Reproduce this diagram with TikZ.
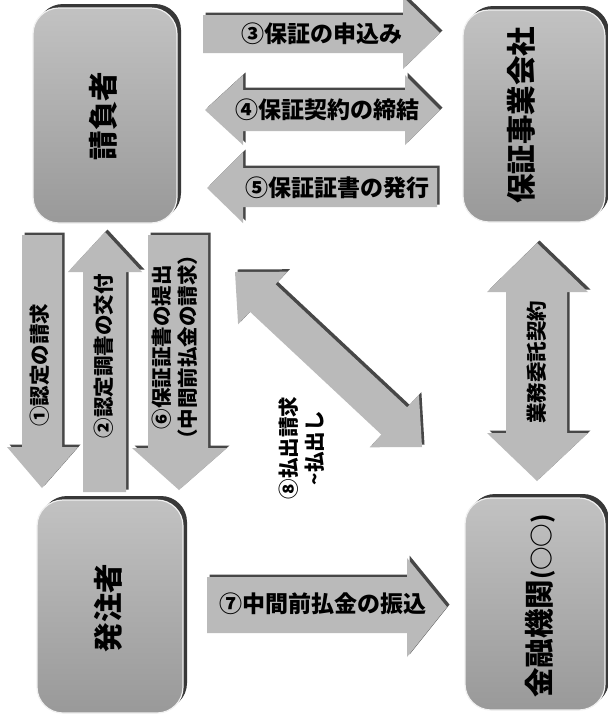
\documentclass[tikz,border=0pt]{standalone}
\usepackage{fontspec}
\setmainfont{Noto Sans CJK JP}
\begin{document}
\begin{tikzpicture}[x=1pt,y=-1pt,
  arr/.style={fill=black!27, preaction={fill=black!72, transform canvas={xshift=2.5pt,yshift=2.5pt}}},
  box/.style={rectangle, rounded corners=26pt, draw=black!6, line width=1.2pt,
    top color=black!24, bottom color=black!40,
    preaction={fill=black!78, transform canvas={xshift=4pt,yshift=4pt}}},
  boxlbl/.style={font=\bfseries\fontsize{29.5}{32}\selectfont, inner sep=0pt},
  hlbl/.style={font=\bfseries\fontsize{23}{26}\selectfont, inner sep=0pt},
  vlbl/.style={font=\bfseries\fontsize{20.5}{26}\selectfont, inner sep=0pt, rotate=90, align=center},
  plbl/.style={font=\bfseries\fontsize{20.5}{26}\selectfont, inner sep=0pt, rotate=90, align=center}
]
\useasboundingbox (0,0) rectangle (608,721);
\clip (0,0) rectangle (608,721);
\fill[white] (0,0) rectangle (608,721);

% boxes
\node[box, minimum width=144pt, minimum height=215pt] (uk) at (105,115.5) {};
\node[box, minimum width=142pt, minimum height=212pt] (hs) at (534,116) {};
\node[box, minimum width=146pt, minimum height=213pt] (ht) at (110,606.5) {};
\node[box, minimum width=140pt, minimum height=212pt] (kn) at (535,604) {};

\node[boxlbl, rotate=90] (ukl) at (103,116) {請負者};
\node[boxlbl, rotate=90] (hsl) at (521,115) {保証事業会社};
\node[boxlbl, rotate=90] (htl) at (108,608) {発注者};
\node[boxlbl, rotate=90] (knl) at (540,606) {金融機関{\fontsize{23.5}{26}\selectfont(○○)}};

% (3) right arrow
\path[arr] (203,15) -- (403,15) -- (403,-3) -- (440,33) -- (403,69) -- (403,53) -- (203,53) -- cycle;
% (4) double arrow
\path[arr] (205,110) -- (243,75) -- (243,90) -- (405,90) -- (405,75) -- (440,110) -- (405,145) -- (405,131) -- (243,131) -- (243,145) -- cycle;
% (5) left arrow
\path[arr] (207,188) -- (243,152) -- (243,168) -- (437,168) -- (437,207) -- (243,207) -- (243,223) -- cycle;
% (7) right arrow
\path[arr] (207,577) -- (407,577) -- (407,558) -- (447,607) -- (407,657) -- (407,633) -- (207,633) -- cycle;
% (1) down arrow
\path[arr] (22,235) -- (62,235) -- (62,447) -- (78,447) -- (42,488) -- (7,447) -- (22,447) -- cycle;
% (2) up arrow
\path[arr] (83,492) -- (83,272) -- (68,272) -- (105,232) -- (142,272) -- (126,272) -- (126,492) -- cycle;
% (6) down arrow
\path[arr] (148,235) -- (208,235) -- (208,448) -- (227,448) -- (179,490) -- (132,448) -- (148,448) -- cycle;
% contract double arrow
\path[arr] (537,243) -- (588,292) -- (567,292) -- (567,433) -- (588,433) -- (537,481) -- (487,433) -- (506,433) -- (506,292) -- (487,292) -- cycle;
% diagonal double arrow
\path[arr] (235,272) -- (287.3,271.7) -- (275.5,284.3) -- (407.1,407.3) -- (418.9,394.7) -- (422,447)
  -- (369.7,447.3) -- (381.5,434.7) -- (249.9,311.7) -- (238.1,324.3) -- cycle;

% labels
\node[hlbl] (l3) at (322,34) {③保証の申込み};
\node[hlbl] (l4) at (327,110) {④保証契約の締結};
\node[hlbl] (l5) at (337,188) {⑤保証証書の発行};
\node[hlbl] (l7) at (323,604) {⑦中間前払金の振込};
\node[vlbl] (l1) at (40,365) {①認定の請求};
\node[vlbl] (l2) at (104,356) {②認定調書の交付};
\node[vlbl] (l6) at (175,347) {⑥保証証書の提出\\（中間前払金の請求）};
\node[vlbl] (lc) at (537,362) {業務委託契約};
\node[plbl] (l8) at (302,448) {⑧払出請求\\\textasciitilde 払出し};
\end{tikzpicture}
\end{document}
